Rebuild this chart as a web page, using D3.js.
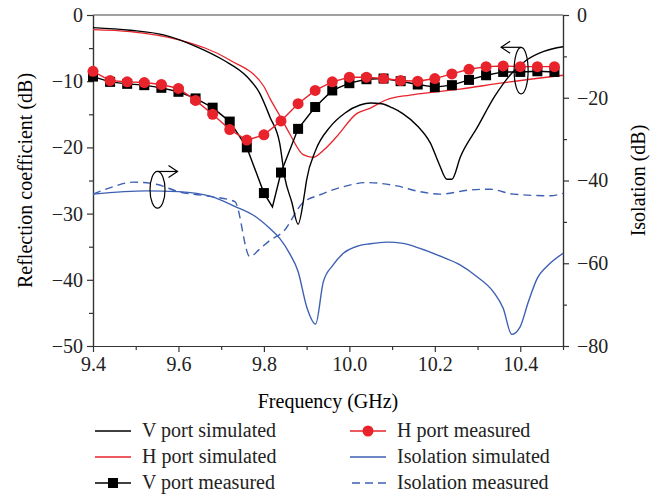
<!DOCTYPE html>
<html>
<head>
  <meta charset="utf-8">
  <title>Reflection coefficient and isolation</title>
  <style>
    body { margin: 0; background: #fff; }
    text { font-family: "Liberation Serif", "DejaVu Serif", serif; }
  </style>
</head>
<body>
  <script src="https://d3js.org/d3.v7.min.js"></script>
  <script type="text/javascript">

// simulated curves (GHz, dB)
var vSimFreq = [9.40, 9.487, 9.565, 9.643, 9.705, 9.76, 9.79, 9.814, 9.837, 9.849, 9.865, 9.88, 9.895, 9.90, 9.92, 9.955, 9.99, 10.025, 10.05, 10.075, 10.10, 10.125, 10.16, 10.19, 10.21, 10.228, 10.24, 10.26, 10.30, 10.34, 10.38, 10.415, 10.455, 10.50];
var vSimVal  = [-1.9, -2.3, -3.0, -4.8, -6.8, -9.3, -11.8, -15.4, -19.4, -24.6, -28.2, -31.6, -27.0, -24.9, -20.6, -16.9, -14.8, -13.6, -13.3, -13.4, -14.0, -14.9, -16.8, -19.4, -22.5, -24.8, -24.8, -21.4, -16.9, -12.3, -8.8, -6.8, -5.5, -4.8];

var hSimFreq = [9.40, 9.487, 9.604, 9.72, 9.80, 9.814, 9.838, 9.86, 9.892, 9.915, 9.94, 9.97, 10.017, 10.048, 10.087, 10.142, 10.204, 10.259, 10.353, 10.50];
var hSimVal  = [-2.2, -2.5, -3.8, -6.8, -10.8, -12.6, -15.3, -17.9, -21.1, -21.5, -20.4, -18.4, -14.9, -14.1, -12.8, -12.1, -11.6, -11.2, -10.3, -9.1];

// measured curves
var vMeasFreq = [9.40, 9.44, 9.48, 9.52, 9.56, 9.60, 9.64, 9.68, 9.72, 9.76, 9.80, 9.82, 9.84, 9.88, 9.92, 9.96, 10.00, 10.04, 10.08, 10.12, 10.16, 10.20, 10.24, 10.28, 10.32, 10.36, 10.40, 10.44, 10.48];
var vMeasVal  = [-9.3, -10.1, -10.4, -10.6, -11.0, -11.6, -12.6, -14.0, -16.1, -20.0, -26.9, -29.0, -23.8, -17.2, -13.9, -11.4, -10.3, -9.7, -9.6, -10.0, -10.5, -10.9, -10.6, -9.8, -9.1, -8.6, -8.6, -8.5, -8.6];

var hMeasFreq = [9.40, 9.44, 9.48, 9.52, 9.56, 9.60, 9.64, 9.68, 9.72, 9.76, 9.80, 9.84, 9.88, 9.92, 9.96, 10.00, 10.04, 10.08, 10.12, 10.16, 10.20, 10.24, 10.28, 10.32, 10.36, 10.40, 10.44, 10.48];
var hMeasVal  = [-8.5, -9.9, -10.1, -10.2, -10.5, -11.1, -12.9, -15.0, -17.3, -18.9, -18.1, -16.0, -13.4, -11.4, -10.1, -9.4, -9.4, -9.6, -9.9, -10.0, -9.6, -8.9, -8.2, -7.8, -7.7, -7.8, -7.8, -7.8];

// isolation (right axis)
var isoSimFreq = [9.40, 9.525, 9.60, 9.678, 9.733, 9.78, 9.814, 9.837, 9.86, 9.88, 9.90, 9.921, 9.939, 9.962, 9.986, 10.021, 10.048, 10.087, 10.126, 10.165, 10.22, 10.259, 10.298, 10.337, 10.36, 10.38, 10.399, 10.419, 10.44, 10.462, 10.50];
var isoSimVal  = [-43.3, -42.5, -42.7, -43.9, -46.3, -48.7, -51.6, -54.0, -57.6, -62.0, -70.5, -74.7, -64.5, -60.4, -57.6, -55.8, -55.3, -54.9, -55.2, -56.4, -58.6, -60.4, -63.2, -66.9, -70.9, -77.2, -75.5, -69.3, -63.6, -60.8, -57.6];

var isoMeasFreq = [9.40, 9.447, 9.494, 9.548, 9.60, 9.678, 9.732, 9.767, 9.79, 9.815, 9.845, 9.89, 9.93, 9.986, 10.04, 10.111, 10.165, 10.212, 10.282, 10.329, 10.384, 10.47, 10.50];
var isoMeasVal  = [-43.3, -41.5, -40.4, -40.9, -42.7, -43.9, -45.1, -58.4, -56.6, -54.4, -52.4, -45.5, -43.5, -41.5, -40.5, -41.3, -42.7, -43.3, -42.3, -42.1, -43.3, -43.7, -43.1];

// ticks
var xTicks = [9.4, 9.6, 9.8, 10.0, 10.2, 10.4];
var xMinor = [9.5, 9.7, 9.9, 10.1, 10.3, 10.5];
var yLeftTicks = [0, -10, -20, -30, -40, -50];
var yLeftMinor = [-5, -15, -25, -35, -45];
var yRightTicks = [0, -20, -40, -60, -80];
var yRightMinor = [-10, -30, -50, -70];

var legendNames = ["V port simulated", "H port simulated", "V port measured", "H port measured", "Isolation simulated", "Isolation measured"];

var red = "#e8232b", blue = "#3e60b4";

var margin = {top: 15, right: 101, bottom: 152, left: 93},
    W = 664, H = 498,
    width  = W - margin.left - margin.right,
    height = H - margin.top - margin.bottom;

var svg = d3.select("body").append("svg")
    .attr("width", W)
    .attr("height", H);

var x = d3.scaleLinear().domain([9.4, 10.5]).range([margin.left, margin.left + width]);
var yL = d3.scaleLinear().domain([-50, 0]).range([margin.top + height, margin.top]);
var yR = d3.scaleLinear().domain([-80, 0]).range([margin.top + height, margin.top]);

function zip(f, v) { return f.map(function(d, i){ return [d, v[i]]; }); }

// axes
function styleAxis(g) {
    g.selectAll("path, line").attr("stroke", "#333").attr("stroke-width", 1.2);
    g.selectAll("text").attr("font-size", 20).attr("fill", "#222")
        .style("font-family", "'Liberation Serif', serif");
}

svg.append("g").attr("transform", "translate(0," + (margin.top + height) + ")")
    .call(d3.axisBottom(x).tickValues(xMinor).tickSize(4).tickFormat("").tickSizeOuter(0)).call(styleAxis);
svg.append("g").attr("transform", "translate(0," + (margin.top + height) + ")")
    .call(d3.axisBottom(x).tickValues(xTicks).tickSize(6).tickPadding(5).tickSizeOuter(0).tickFormat(d3.format(".1f"))).call(styleAxis);

svg.append("g").attr("transform", "translate(" + margin.left + ",0)")
    .call(d3.axisLeft(yL).tickValues(yLeftMinor).tickSize(4).tickFormat("").tickSizeOuter(0)).call(styleAxis);
svg.append("g").attr("transform", "translate(" + margin.left + ",0)")
    .call(d3.axisLeft(yL).tickValues(yLeftTicks).tickSize(6).tickPadding(4).tickSizeOuter(0).tickFormat(d3.format("d"))).call(styleAxis);

svg.append("g").attr("transform", "translate(" + (margin.left + width) + ",0)")
    .call(d3.axisRight(yR).tickValues(yRightMinor).tickSize(4).tickFormat("").tickSizeOuter(0)).call(styleAxis);
svg.append("g").attr("transform", "translate(" + (margin.left + width) + ",0)")
    .call(d3.axisRight(yR).tickValues(yRightTicks).tickSize(6).tickPadding(8).tickSizeOuter(0).tickFormat(d3.format("d"))).call(styleAxis);

svg.append("line")
    .attr("x1", margin.left).attr("x2", margin.left + width)
    .attr("y1", margin.top).attr("y2", margin.top)
    .attr("stroke", "#444").attr("stroke-width", 1.2);

// axis titles
svg.append("text")
    .attr("x", margin.left + width / 2).attr("y", 408)
    .attr("text-anchor", "middle").attr("font-size", 20)
    .text("Frequency (GHz)");
svg.append("text")
    .attr("transform", "translate(25," + (margin.top + height / 2) + ") rotate(-90)")
    .attr("text-anchor", "middle").attr("dy", "0.35em").attr("font-size", 20)
    .text("Reflection coefficient (dB)");
svg.append("text")
    .attr("transform", "translate(638," + (margin.top + height / 2) + ") rotate(-90)")
    .attr("text-anchor", "middle").attr("dy", "0.35em").attr("font-size", 20)
    .text("Isolation (dB)");

// curves
var lineL = d3.line().x(function(d){ return x(d[0]); }).y(function(d){ return yL(d[1]); });
var lineR = d3.line().x(function(d){ return x(d[0]); }).y(function(d){ return yR(d[1]); });
var smoothL = d3.line().curve(d3.curveMonotoneX).x(function(d){ return x(d[0]); }).y(function(d){ return yL(d[1]); });
var smoothR = d3.line().curve(d3.curveMonotoneX).x(function(d){ return x(d[0]); }).y(function(d){ return yR(d[1]); });

var plot = svg.append("g");

plot.append("path").datum(zip(isoMeasFreq, isoMeasVal))
    .attr("d", smoothR).attr("fill", "none").attr("stroke", blue)
    .attr("stroke-width", 1.4).attr("stroke-dasharray", "8,5");
plot.append("path").datum(zip(isoSimFreq, isoSimVal))
    .attr("d", smoothR).attr("fill", "none").attr("stroke", blue).attr("stroke-width", 1.4);
plot.append("path").datum(zip(hSimFreq, hSimVal))
    .attr("d", smoothL).attr("fill", "none").attr("stroke", red).attr("stroke-width", 1.3);
plot.append("path").datum(zip(vSimFreq, vSimVal))
    .attr("d", smoothL).attr("fill", "none").attr("stroke", "#000").attr("stroke-width", 1.4);

var vMeas = zip(vMeasFreq, vMeasVal);
var hMeas = zip(hMeasFreq, hMeasVal);
function onGrid(d) { var k = (d[0] - 9.4) / 0.04; return Math.abs(k - Math.round(k)) < 1e-6; }

plot.append("path").datum(vMeas)
    .attr("d", lineL).attr("fill", "none").attr("stroke", "#000").attr("stroke-width", 1.4);
plot.selectAll(".sq").data(vMeas.filter(onGrid)).enter().append("rect")
    .attr("class", "sq")
    .attr("x", function(d){ return x(d[0]) - 5; })
    .attr("y", function(d){ return yL(d[1]) - 5; })
    .attr("width", 10).attr("height", 10).attr("fill", "#000");

plot.append("path").datum(hMeas)
    .attr("d", lineL).attr("fill", "none").attr("stroke", red).attr("stroke-width", 1.4);
plot.selectAll(".dot").data(hMeas).enter().append("circle")
    .attr("class", "dot")
    .attr("cx", function(d){ return x(d[0]); })
    .attr("cy", function(d){ return yL(d[1]); })
    .attr("r", 5.5).attr("fill", red);

// ellipse + arrow annotations
function annot(cf, cv, rx, ry, dir) {
    var cx = x(cf), cy = yL(cv), top = cy - ry, tip = cx + dir * 20;
    var g = svg.append("g").attr("fill", "none").attr("stroke", "#000").attr("stroke-width", 1.2);
    g.append("ellipse").attr("cx", cx).attr("cy", cy).attr("rx", rx).attr("ry", ry);
    g.append("line").attr("x1", cx).attr("y1", top).attr("x2", tip).attr("y2", top);
    g.append("path").attr("d", "M" + (tip - dir * 9) + "," + (top - 6) + "L" + tip + "," + top + "L" + (tip - dir * 9) + "," + (top + 6));
}
annot(9.551, -26.4, 7.5, 18.3, 1);
annot(10.402, -8.4, 7, 23.3, -1);

// legend
var legend = svg.append("g");
var legCols = [95, 350], legRows = [431, 457, 483];
legendNames.forEach(function(name, i) {
    var col = i < 3 ? 0 : 1, row = i % 3;
    var lx = legCols[col], ly = legRows[row];
    var stroke = ["#000", red, "#000", red, blue, blue][i];
    var ln = legend.append("line")
        .attr("x1", lx).attr("x2", lx + 36).attr("y1", ly).attr("y2", ly)
        .attr("stroke", stroke).attr("stroke-width", 1.4);
    if (i === 5) ln.attr("stroke-dasharray", "8,5").attr("x1", lx + 2);
    if (i === 2) legend.append("rect").attr("x", lx + 13).attr("y", ly - 5).attr("width", 10).attr("height", 10).attr("fill", "#000");
    if (i === 3) legend.append("circle").attr("cx", lx + 18).attr("cy", ly).attr("r", 5.5).attr("fill", red);
    legend.append("text").attr("x", lx + 47).attr("y", ly + 6).attr("font-size", 20).attr("fill", "#222").text(name);
});

  </script>
</body>
</html>
